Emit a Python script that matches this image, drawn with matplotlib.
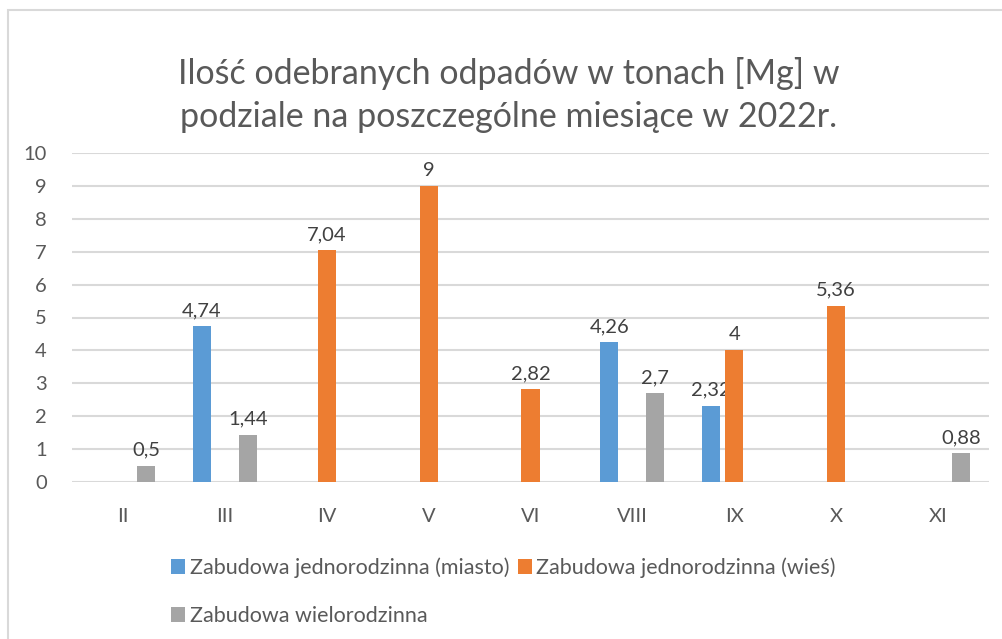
import matplotlib
matplotlib.use("Agg")
import matplotlib.pyplot as plt
from matplotlib.patches import Rectangle
import numpy as np

categories = ["II", "III", "IV", "V", "VI", "VIII", "IX", "X", "XI"]
miasto = [np.nan, 4.74, np.nan, np.nan, np.nan, 4.26, 2.32, np.nan, np.nan]
wies = [np.nan, np.nan, 7.04, 9, 2.82, np.nan, 4, 5.36, np.nan]
wielo = [0.5, 1.44, np.nan, np.nan, np.nan, 2.7, np.nan, np.nan, 0.88]
series_names = ["Zabudowa jednorodzinna (miasto)", "Zabudowa jednorodzinna (wieś)",
                "Zabudowa wielorodzinna"]
colors = ["#5B9BD5", "#ED7D31", "#A5A5A5"]
title = "Ilość odebranych odpadów w tonach [Mg] w\npodziale na poszczególne miesiące w 2022r."

plt.rcParams['font.family'] = ['Lato', 'DejaVu Sans']
txt = "#595959"

W, H = 1003, 639
fig = plt.figure(figsize=(W / 100, H / 100), dpi=100)
fig.patch.set_facecolor("white")

# outer chart border
fig.add_artist(Rectangle((8 / W, -0.1), 1.2, 1 - 10 / H + 0.1, transform=fig.transFigure,
                         fill=False, edgecolor="#D9D9D9", linewidth=1.5))

ax = fig.add_axes([72 / W, 1 - 482 / H, (989 - 72) / W, (482 - 153) / H])
x = np.arange(len(categories))
width = 0.177
off = 0.226
handles = []
for i, (vals, c, name) in enumerate(zip([miasto, wies, wielo], colors, series_names)):
    pos = x + (i - 1) * off
    b = ax.bar(pos, vals, width=width, color=c, label=name, zorder=3)
    handles.append(b)
    for p, v in zip(pos, vals):
        if not np.isnan(v):
            ax.annotate(f"{v:g}".replace(".", ","), (p, v), xytext=(0, 5),
                        textcoords="offset points", ha="center", va="bottom",
                        fontsize=14.5, color="#404040")

ax.set_xlim(-0.5, len(categories) - 0.5)
ax.set_ylim(0, 10)
ax.set_yticks(range(0, 11))
ax.set_xticks(x)
ax.set_xticklabels(categories)
ax.tick_params(axis="both", length=0, labelsize=14.5, labelcolor=txt)
ax.tick_params(axis="y", pad=18)
ax.tick_params(axis="x", pad=19)
ax.yaxis.grid(True, color="#D9D9D9", linewidth=1.5, zorder=0)
for s in ax.spines.values():
    s.set_visible(False)
ax.set_facecolor("none")

fig.text(509 / W, 1 - 95 / H, title, ha="center", va="center", fontsize=24.5,
         color=txt, linespacing=1.45)

leg = fig.legend([handles[0], handles[2], handles[1]],
                 [series_names[0], series_names[2], series_names[1]],
                 ncol=2, loc="upper left", bbox_to_anchor=(152 / W, 1 - 538 / H),
                 frameon=False, fontsize=15.5, handlelength=0.65, handleheight=0.65,
                 handletextpad=0.2, columnspacing=0.4, labelspacing=1.3)
for t in leg.get_texts():
    t.set_color(txt)

fig.savefig("out.png", dpi=100)
